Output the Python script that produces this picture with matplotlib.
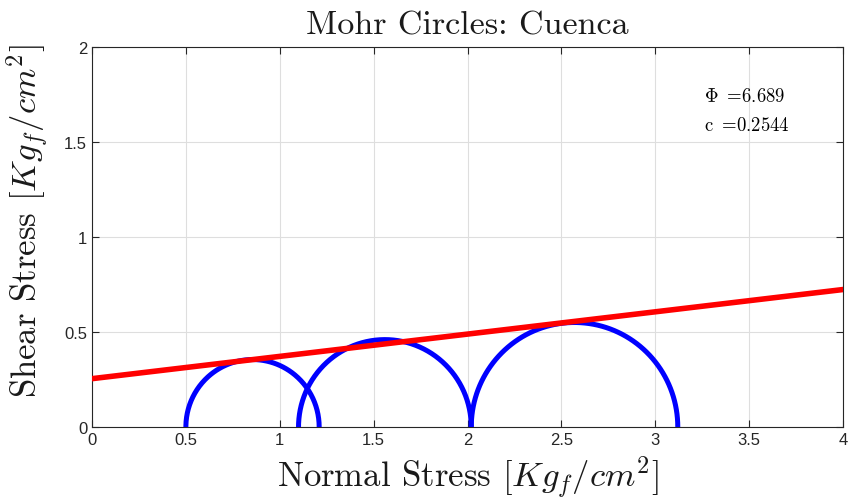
import numpy as np
import matplotlib
matplotlib.use("Agg")
import matplotlib.pyplot as plt

plt.rcParams['mathtext.fontset'] = 'cm'
plt.rcParams['font.family'] = ['Liberation Sans', 'DejaVu Sans']

# principal stresses of each test [Kgf/cm2]
sigma3 = [0.5, 1.1, 2.02]
sigma1 = [1.21, 2.02, 3.12]
# Mohr-Coulomb envelope
phi = 6.689
c = 0.2544

fig = plt.figure(figsize=(8.49, 5.02), dpi=100)
ax = fig.add_axes([92/849, 74/502, 751/849, 380/502])

th = np.linspace(0, np.pi, 300)
for s3, s1 in zip(sigma3, sigma1):
    cen = (s1 + s3) / 2
    r = (s1 - s3) / 2
    ax.plot(cen + r*np.cos(th), r*np.sin(th), color='#0000ff', lw=3.6, zorder=3)

xs = np.array([0, 4])
ax.plot(xs, c + np.tan(np.radians(phi))*xs, color='#ff0000', lw=4, zorder=4)

ax.set_xlim(0, 4)
ax.set_ylim(0, 2)
ax.set_xticks(np.arange(0, 4.01, 0.5))
ax.set_yticks(np.arange(0, 2.01, 0.5))
ax.set_xticklabels(['0', '0.5', '1', '1.5', '2', '2.5', '3', '3.5', '4'])
ax.set_yticklabels(['0', '0.5', '1', '1.5', '2'])
ax.grid(True, color='#dedede', lw=0.8)
ax.set_axisbelow(True)
ax.tick_params(direction='in', top=True, right=True, length=5, width=0.8,
               colors='#262626', labelsize=12)
for s in ax.spines.values():
    s.set_color('#262626')
    s.set_linewidth(0.8)

cm = 'cmr10'
ax.set_title('Mohr Circles: Cuenca', fontsize=24.5, fontfamily=cm, color='#1a1a1a', pad=10)
ax.set_xlabel(r'Normal Stress $[Kg_f/cm^2]$', fontsize=25, fontfamily=cm, color='#1a1a1a', labelpad=5)
ax.set_ylabel(r'Shear Stress $[Kg_f/cm^2]$', fontsize=25, fontfamily=cm, color='#1a1a1a')
ax.yaxis.set_label_coords(-0.056, 0.545)

ax.text(3.26, 1.74, r'$\Phi\ =\!6.689$', fontsize=13.5, va='center')
ax.text(3.26, 1.59, r'$\mathrm{c}\ =\!0.2544$', fontsize=13.5, va='center')

fig.savefig('out.png')
